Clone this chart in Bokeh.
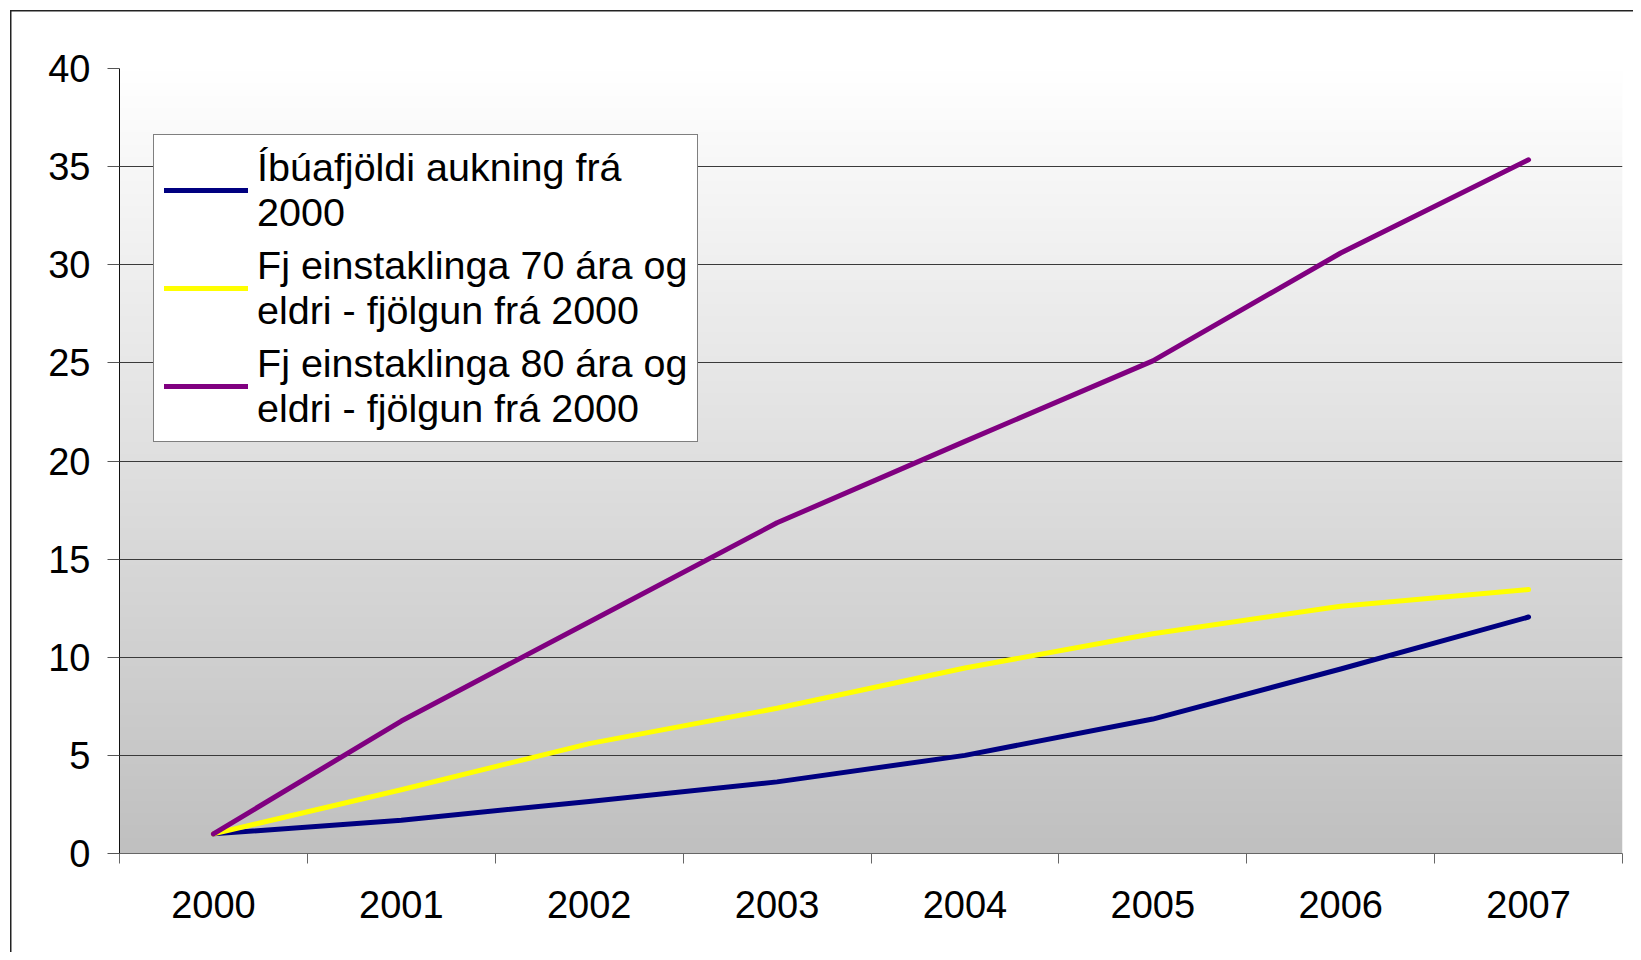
import numpy as np
from bokeh.plotting import figure
from bokeh.models import FixedTicker, Legend, LegendItem, Range1d, InlineStyleSheet
from bokeh.embed import file_html
from bokeh.resources import INLINE

years = ["2000", "2001", "2002", "2003", "2004", "2005", "2006", "2007"]
ibuafjoldi = [1.0, 1.7, 2.65, 3.65, 5.0, 6.85, 9.4, 12.05]
einst70 = [1.0, 3.25, 5.6, 7.4, 9.45, 11.2, 12.6, 13.45]
einst80 = [1.0, 6.75, 11.8, 16.85, 21.0, 25.1, 30.6, 35.35]
labels = [
    "Íbúafjöldi aukning frá\n2000",
    "Fj einstaklinga 70 ára og\neldri - fjölgun frá 2000",
    "Fj einstaklinga 80 ára og\neldri - fjölgun frá 2000",
]
colors = ["#000080", "#FFFF00", "#800080"]
y_ticks = [0, 5, 10, 15, 20, 25, 30, 35, 40]

FONT = "Liberation Sans"
FS = "38px"
x = list(range(len(years)))

p = figure(
    frame_width=1503, frame_height=785,
    min_border_left=119, min_border_right=11, min_border_top=68, min_border_bottom=99,
    x_range=Range1d(-0.5, len(years) - 0.5), y_range=Range1d(y_ticks[0], y_ticks[-1]),
    output_backend="svg", toolbar_location=None,
)
p.stylesheets = [InlineStyleSheet(css=(
    ":host { background: white; "
    "box-shadow: inset 10px 10px 0 0 white, inset 11.5px 11.5px 0 0 #222222; }"
))]
p.outline_line_color = None
p.background_fill_color = "white"
p.border_fill_color = "white"
p.border_fill_alpha = 0.0

# gradient background (white at top -> silver at bottom)
n = 256
t = np.linspace(0, 1, n)  # bottom -> top
g = (192 + (255 - 192) * t).astype(np.uint32)
img = np.empty((n, 1), dtype=np.uint32)
view = img.view(dtype=np.uint8).reshape((n, 1, 4))
view[:, 0, 0] = g
view[:, 0, 1] = g
view[:, 0, 2] = g
view[:, 0, 3] = 255
p.image_rgba(image=[img], x=-0.5, y=y_ticks[0], dw=len(years), dh=y_ticks[-1] - y_ticks[0], level="image")

renderers = []
for series, c in zip([ibuafjoldi, einst70, einst80], colors):
    r = p.line(x, series, line_color=c, line_width=5, line_cap="round", line_join="round")
    renderers.append(r)

# axes
p.xaxis.ticker = FixedTicker(ticks=x, minor_ticks=[i - 0.5 for i in range(len(years) + 1)])
p.xaxis.major_label_overrides = {i: y for i, y in enumerate(years)}
p.xaxis.axis_line_color = "#666666"
p.xaxis.major_tick_out = 0
p.xaxis.major_tick_in = 0
p.xaxis.minor_tick_out = 10
p.xaxis.minor_tick_in = 0
p.xaxis.minor_tick_line_color = "#666666"
p.xaxis.major_label_standoff = 27
p.xaxis.major_label_text_font = FONT
p.xaxis.major_label_text_font_size = FS
p.xaxis.major_label_text_color = "black"

p.yaxis.ticker = FixedTicker(ticks=y_ticks)
p.yaxis.axis_line_color = "#111111"
p.yaxis.major_tick_out = 12
p.yaxis.major_tick_in = 0
p.yaxis.major_tick_line_color = "#555555"
p.yaxis.minor_tick_line_color = None
p.yaxis.major_label_standoff = 17
p.yaxis.major_label_text_font = FONT
p.yaxis.major_label_text_font_size = FS
p.yaxis.major_label_text_color = "black"

p.xgrid.grid_line_color = None
p.ygrid.grid_line_color = "#3a3a3a"
p.ygrid.grid_line_width = 1
p.ygrid.level = "underlay"

legend = Legend(
    items=[LegendItem(label=l, renderers=[r]) for l, r in zip(labels, renderers)],
    location=(34, 411),
    margin=0,
    padding=10,
    spacing=8,
    glyph_width=84,
    glyph_height=20,
    label_standoff=9,
    label_text_font=FONT,
    label_text_font_size="39.5px",
    label_text_line_height=1.1,
    label_text_color="black",
    border_line_color="black",
    border_line_width=1,
    background_fill_color="white",
    background_fill_alpha=1.0,
)
p.add_layout(legend)

open("out.html", "w").write(file_html(p, INLINE))
